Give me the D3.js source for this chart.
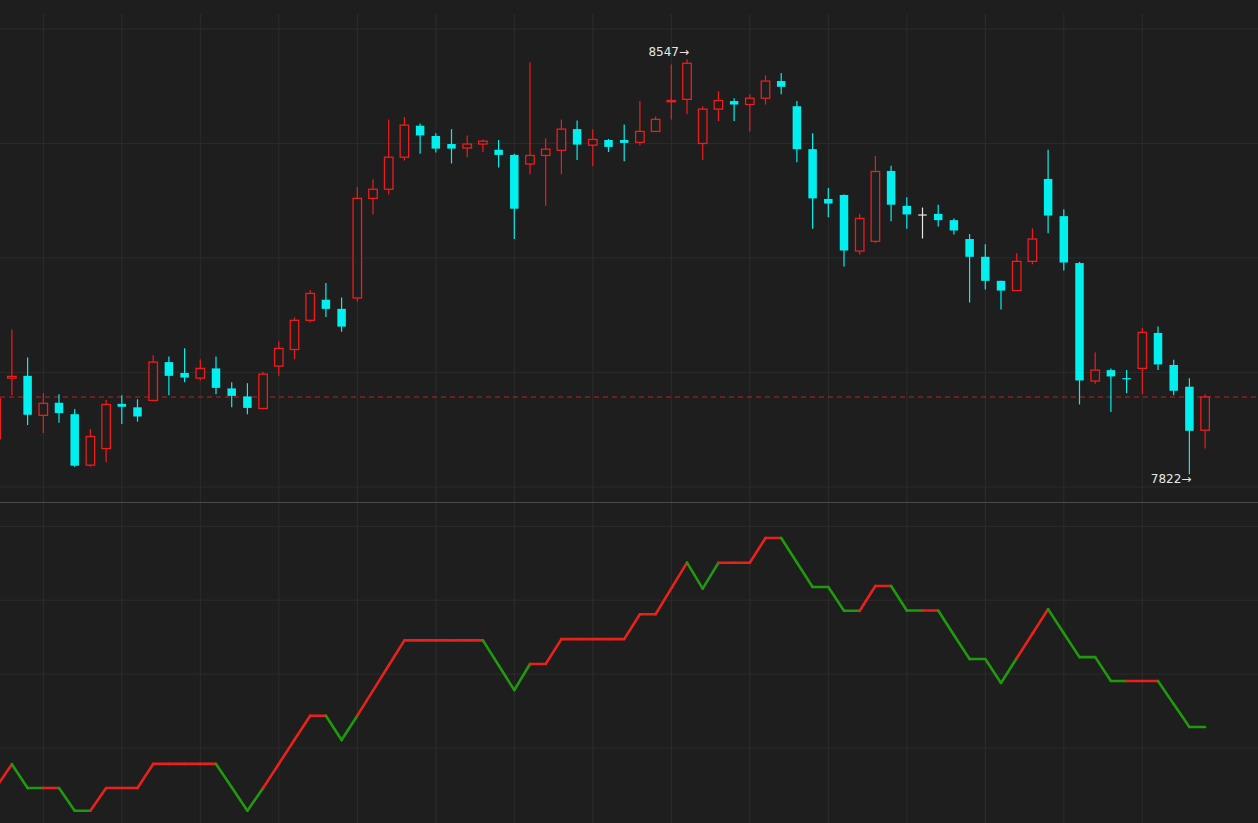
<!DOCTYPE html>
<html><head><meta charset="utf-8">
<script src="https://cdn.jsdelivr.net/npm/d3@7"></script>
<style>html,body{margin:0;padding:0;background:#1e1e1e;overflow:hidden}</style>
</head><body><svg id="c" width="1258" height="823"></svg>
<script>
const opens  = [7884,7990,7994,7925,7947,7927,7838,7867,7945,7939,7951,8018,7999,7990,8007,7972,7958,7937,8011,8040,8091,8127,8111,8130,8304,8320,8376,8431,8413,8399,8392,8399,8389,8380,8364,8379,8388,8425,8397,8406,8406,8402,8421,8473,8477,8400,8460,8474,8468,8479,8509,8465,8390,8303,8310,8212,8229,8352,8291,8276,8277,8266,8233,8202,8160,8143,8194,8338,8273,8191,7985,8004,7990,8007,8069,8013,7975,7899];
const closes = [7954,7993,7926,7946,7929,7837,7888,7944,7940,7923,8018,7994,7991,8007,7973,7959,7938,7997,8042,8091,8138,8111,8080,8304,8320,8376,8432,8414,8391,8391,8399,8404,8380,8286,8379,8390,8425,8398,8407,8394,8401,8421,8442,8475,8540,8460,8475,8468,8479,8509,8499,8390,8304,8295,8213,8269,8351,8293,8276,8276,8266,8248,8202,8160,8143,8194,8233,8274,8192,7986,8004,7993,7989,8070,8014,7968,7898,7957];
const highs  = [7961,8075,8026,7964,7962,7936,7901,7952,7960,7953,8030,8028,8042,8023,8028,7983,7981,8001,8054,8096,8144,8156,8131,8324,8337,8442,8446,8435,8418,8425,8414,8407,8406,8382,8542,8409,8442,8440,8425,8408,8433,8474,8447,8538,8547,8465,8491,8479,8486,8519,8523,8474,8418,8322,8311,8277,8378,8361,8306,8288,8293,8269,8242,8224,8160,8208,8252,8389,8285,8193,8035,8007,8004,8078,8080,8022,7990,7962];
const lows   = [7882,7960,7908,7894,7912,7835,7835,7843,7910,7914,7950,7960,7983,7986,7962,7939,7927,7936,7994,8023,8087,8097,8071,8124,8276,8311,8370,8382,8384,8365,8376,8385,8358,8233,8346,8291,8346,8371,8360,8385,8369,8397,8420,8442,8451,8371,8439,8439,8421,8468,8486,8367,8251,8271,8185,8206,8226,8264,8251,8234,8255,8241,8122,8145,8110,8143,8189,8243,8178,7944,7980,7931,7964,7962,8004,7960,7822,7867];
const indicator = [0.95,1.89,0.92,0.92,0.92,0,0,0.92,0.92,0.92,1.9,1.9,1.9,1.9,1.9,0.95,0,0.92,1.9,2.88,3.86,3.86,2.87,3.86,4.88,5.9,6.92,6.92,6.92,6.92,6.92,6.92,5.91,4.9,5.96,5.96,6.97,6.97,6.97,6.97,6.97,7.98,7.98,9.03,10.08,9.02,10.07,10.07,10.07,11.08,11.08,10.08,9.09,9.09,8.12,8.12,9.13,9.13,8.13,8.13,8.13,7.14,6.16,6.16,5.19,6.19,7.19,8.19,7.21,6.24,6.24,5.27,5.27,5.27,5.27,4.33,3.4,3.4];
// colour of each segment from point k to k+1: 1 = red, 0 = green
const segUp = [1,0,0,1,0,0,1,1,1,1,1,1,1,1,0,0,0,1,1,1,1,0,0,1,1,1,1,1,1,1,1,0,0,0,1,1,1,1,1,1,1,1,1,1,0,0,1,1,1,1,0,0,0,0,0,1,1,0,0,1,0,0,0,0,0,1,1,0,0,0,0,0,1,1,0,0,0];
const priceTicks = [7800,8000,8200,8400,8600];
const indTicks = [2.55,5.55,8.55,11.55];
const gridIdx = d3.range(3,74,5);

const svg = d3.select('#c');
const W = 1258;
const x = d3.scaleLinear().domain([0,77]).range([-3.8,1205.1]);
const y = d3.scaleLinear().domain([7822,8547]).range([474.3,59.3]);
const yi = d3.scaleLinear().domain([-0.5,12.5]).range([823,503]);
const gridC = '#2c2c2c';

const g = svg.append('g');
g.selectAll('.hp').data(priceTicks).join('line').attr('x1',0).attr('x2',W)
 .attr('y1',d=>y(d)).attr('y2',d=>y(d)).attr('stroke',gridC);
g.selectAll('.hi').data(indTicks).join('line').attr('x1',0).attr('x2',W)
 .attr('y1',d=>yi(d)).attr('y2',d=>yi(d)).attr('stroke',gridC);
g.selectAll('.vp').data(gridIdx).join('line').attr('x1',d=>x(d)).attr('x2',d=>x(d))
 .attr('y1',14).attr('y2',502).attr('stroke',gridC);
g.selectAll('.vi').data(gridIdx).join('line').attr('x1',d=>x(d)).attr('x2',d=>x(d))
 .attr('y1',503).attr('y2',823).attr('stroke',gridC);
svg.append('line').attr('x1',0).attr('x2',W).attr('y1',502.5).attr('y2',502.5).attr('stroke','#4a4a4a');

svg.append('line').attr('x1',0).attr('x2',W).attr('y1',y(closes[77])).attr('y2',y(closes[77]))
 .attr('stroke','#c42020').attr('stroke-dasharray','5,4').attr('stroke-width',1);

const RED='#ee1c1c', CY='#00f0f0', WH='#e8e8e8';
const data = opens.map((o,i)=>({i,o,c:closes[i],h:highs[i],l:lows[i]}));
const col = d=> d.c>d.o?RED:(d.c<d.o?CY:WH);
const cg = svg.append('g');
cg.selectAll('.w').data(data).join('line')
 .attr('x1',d=>x(d.i)).attr('x2',d=>x(d.i)).attr('y1',d=>y(d.h)).attr('y2',d=>y(d.l))
 .attr('stroke',col).attr('stroke-width',1.2);
const bw = 8.5;
cg.selectAll('.b').data(data).join('rect')
 .attr('x',d=>x(d.i)-bw/2).attr('width',bw)
 .attr('y',d=>y(Math.max(d.o,d.c)))
 .attr('height',d=>Math.max(1.2,Math.abs(y(d.o)-y(d.c))))
 .attr('fill',d=>d.c>d.o?'#1e1e1e':col(d))
 .attr('stroke',d=>d.c>d.o?RED:'none').attr('stroke-width',1.3);

const hiI = d3.maxIndex(highs), loI = d3.minIndex(lows);
const lab = (t,xx,yy)=>svg.append('text').attr('x',xx).attr('y',yy).attr('text-anchor','end')
 .attr('fill','#e6e6e6').attr('font-family','"DejaVu Sans", sans-serif').attr('font-size',12).text(t);
lab(highs[hiI]+'→', x(hiI)+2, y(highs[hiI])-3);
lab(lows[loI]+'→', x(loI)+2, y(lows[loI])+9);

const segs = segUp.map((u,k)=>({k,u}));
svg.append('g').selectAll('line').data(segs).join('line')
 .attr('x1',d=>x(d.k)).attr('x2',d=>x(d.k+1))
 .attr('y1',d=>yi(indicator[d.k])).attr('y2',d=>yi(indicator[d.k+1]))
 .attr('stroke',d=>d.u?'#e8221a':'#1f9a0c').attr('stroke-width',2.6).attr('stroke-linecap','round');
</script></body></html>
